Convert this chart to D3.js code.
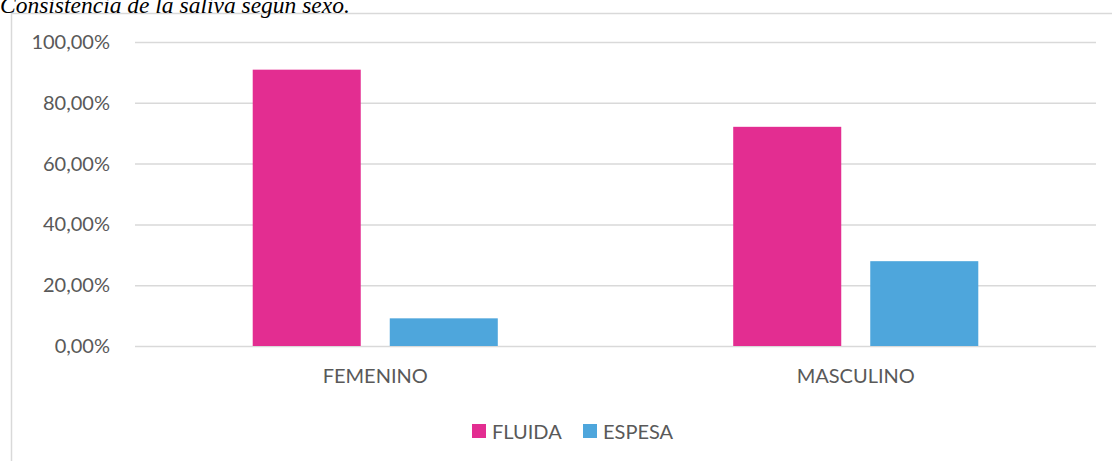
<!DOCTYPE html>
<html><head><meta charset="utf-8">
<script src="https://cdn.jsdelivr.net/npm/d3@7"></script>
<style>body{margin:0;background:#fff;}svg{display:block;}</style>
</head><body>
<svg id="c" width="1112" height="461"></svg>
<script>
const categories = ["FEMENINO", "MASCULINO"];
const seriesNames = ["FLUIDA", "ESPESA"];
const fluida = [90.9, 72.1];
const espesa = [9.1, 27.9];
const yTicks = [0, 20, 40, 60, 80, 100];
const titleText = "Consistencia de la saliva según sexo.";

const colors = {FLUIDA: "#E32D91", ESPESA: "#4EA6DC"};
const valuesBySeries = {FLUIDA: fluida, ESPESA: espesa};
const font = "Lato, 'Open Sans', sans-serif";

const svg = d3.select("#c");
const plot = {left: 135, right: 1096, top: 42, bottom: 346};

// chart frame
svg.append("path").attr("d", "M11.5,461 V13.5 H1112").attr("fill", "none")
  .attr("stroke", "#d9d9d9").attr("stroke-width", 1.5);

// title (cut at top, as in the reference)
svg.append("text").attr("x", 0).attr("y", 13).text(titleText)
  .attr("font-family", "'Liberation Serif','Times New Roman',serif").attr("font-style", "italic")
  .attr("font-size", 23.5).attr("fill", "#000");

const y = d3.scaleLinear().domain([0, 100]).range([plot.bottom, plot.top]);
const x0 = d3.scaleBand().domain(categories).range([plot.left, plot.right]).padding(0);
const x1 = d3.scaleBand().domain(seriesNames).range([0, x0.bandwidth()])
  .paddingInner(0.2117).paddingOuter(0.859);

// gridlines
const yAxis = d3.axisLeft(y).tickValues(yTicks)
  .tickSize(-(plot.right - plot.left)).tickPadding(25)
  .tickFormat(d => d3.format(".2f")(d).replace(".", ",") + "%");
const ga = svg.append("g").attr("transform", `translate(${plot.left},0)`).call(yAxis);
ga.select(".domain").remove();
ga.selectAll(".tick line").attr("stroke", "#d9d9d9").attr("stroke-width", 1.5);
ga.selectAll(".tick text").attr("font-family", font).attr("font-size", 20).attr("fill", "#595959");

// bars
const groups = svg.append("g").selectAll("g").data(categories).join("g")
  .attr("transform", d => `translate(${x0(d)},0)`);
groups.selectAll("rect").data((c, i) => seriesNames.map(s => ({s, v: valuesBySeries[s][i]})))
  .join("rect")
  .attr("x", d => x1(d.s)).attr("width", x1.bandwidth())
  .attr("y", d => y(d.v)).attr("height", d => y(0) - y(d.v))
  .attr("fill", d => colors[d.s]);

// category labels
const xAxis = d3.axisBottom(x0).tickSize(0).tickPadding(23);
const gx = svg.append("g").attr("transform", `translate(0,${plot.bottom})`).call(xAxis);
gx.select(".domain").remove();
gx.selectAll(".tick text").attr("font-family", font).attr("font-size", 20).attr("fill", "#595959");

// legend
const legendX = d3.scaleOrdinal().domain(seriesNames).range([472, 583]);
const lg = svg.append("g").selectAll("g").data(seriesNames).join("g")
  .attr("transform", d => `translate(${legendX(d)},424)`);
lg.append("rect").attr("width", 14).attr("height", 14).attr("fill", d => colors[d]);
lg.append("text").attr("x", 20).attr("y", 14.5).text(d => d)
  .attr("font-family", font).attr("font-size", 20).attr("fill", "#595959");
</script>
</body></html>
